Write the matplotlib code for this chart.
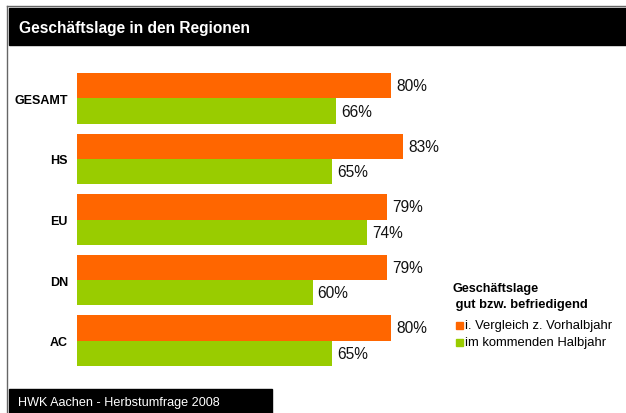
import matplotlib
matplotlib.use("Agg")
import matplotlib.pyplot as plt
from matplotlib.patches import Rectangle
from matplotlib.lines import Line2D

plt.rcParams['font.family'] = ['Liberation Sans', 'DejaVu Sans']

categories = ["GESAMT", "HS", "EU", "DN", "AC"]
vorjahr = [80, 83, 79, 79, 80]
halbjahr = [66, 65, 74, 60, 65]
series_names = ["i. Vergleich z. Vorhalbjahr", "im kommenden Halbjahr"]
title = "Geschäftslage in den Regionen"
footer = "HWK Aachen - Herbstumfrage 2008"
legend_title = ["Geschäftslage", " gut bzw. befriedigend"]

ORANGE = "#FF6600"
GREEN = "#99CC00"

W, H = 626, 414
fig = plt.figure(figsize=(W / 100, H / 100), dpi=100)

def fx(px):
    return px / W

def fy(py):
    return 1 - py / H

# frame lines
fig.add_artist(Line2D([fx(7), fx(7)], [fy(7), fy(414)], color="#666666", lw=1.0, transform=fig.transFigure))
fig.add_artist(Line2D([fx(7), fx(626)], [fy(7), fy(7)], color="#666666", lw=1.0, transform=fig.transFigure))

# title bar
fig.add_artist(Rectangle((fx(9), fy(46)), fx(626) - fx(9), fy(9) - fy(46), color="black", transform=fig.transFigure))
fig.text(fx(19), fy(28), title, color="white", fontsize=11.2, fontweight="bold", va="center", ha="left")

# footer bar
fig.add_artist(Rectangle((fx(9), fy(414)), fx(272) - fx(9), fy(390) - fy(414), color="black", transform=fig.transFigure))
fig.text(fx(18), fy(403), footer, color="white", fontsize=9.1, va="center", ha="left")

# bar axes
ax = fig.add_axes([fx(77), fy(367), fx(469.5) - fx(77), fy(74) - fy(367)])
ax.set_xlim(0, 100)
n = len(categories)
bh = 0.42
ax.set_ylim(n - 1 + bh, -bh)
ys = list(range(n))
ax.barh([y - bh / 2 for y in ys], vorjahr, height=bh, color=ORANGE, label=series_names[0])
ax.barh([y + bh / 2 for y in ys], halbjahr, height=bh, color=GREEN, label=series_names[1])
for y, v in zip(ys, vorjahr):
    ax.text(v + 1.3, y - bh / 2, f"{v}%", va="center", ha="left", fontsize=11.2, color="#111111")
for y, v in zip(ys, halbjahr):
    ax.text(v + 1.3, y + bh / 2, f"{v}%", va="center", ha="left", fontsize=11.2, color="#111111")
ax.set_yticks(ys)
ax.set_yticklabels(categories, fontsize=9, fontweight="bold")
ax.tick_params(axis="y", length=0, pad=6.5)
ax.set_xticks([])
for s in ax.spines.values():
    s.set_visible(False)
ax.patch.set_visible(False)

# legend
fig.text(fx(452), fy(289), legend_title[0], fontsize=9.1, fontweight="bold", va="center", ha="left")
fig.text(fx(452), fy(305), legend_title[1], fontsize=9.3, fontweight="bold", va="center", ha="left")
for i, (name, col) in enumerate(zip(series_names, [ORANGE, GREEN])):
    yy = 326 + i * 17
    fig.add_artist(Rectangle((fx(456), fy(yy + 3.5)), fx(7), fy(0) - fy(7), color=col, transform=fig.transFigure))
    fig.text(fx(465), fy(yy), name, fontsize=9.4, va="center", ha="left")

fig.savefig("out.png", dpi=100)
